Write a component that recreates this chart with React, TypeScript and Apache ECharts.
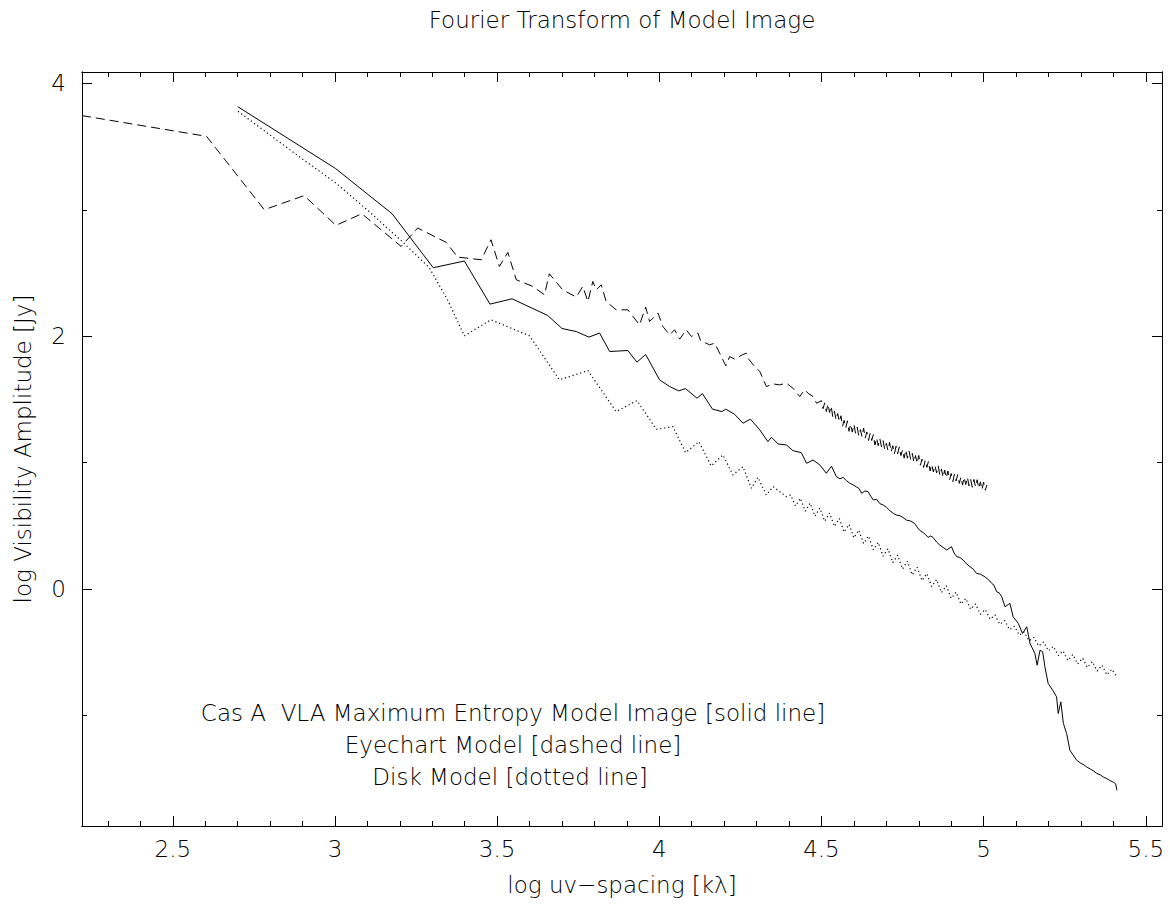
import React, { useEffect, useRef } from "react";
import * as echarts from "echarts";

// ---- axis ranges & ticks ----
const X_MIN = 2.22;
const X_MAX = 5.55;
const Y_MIN = -1.874;
const Y_MAX = 4.09;

const xMajorTicks = [2.5, 3, 3.5, 4, 4.5, 5, 5.5];
const xMinorTicks = [
  2.3, 2.4, 2.5, 2.6, 2.7, 2.8, 2.9, 3.0, 3.1, 3.2, 3.3, 3.4, 3.5, 3.6, 3.7, 3.8, 3.9,
  4.0, 4.1, 4.2, 4.3, 4.4, 4.5, 4.6, 4.7, 4.8, 4.9, 5.0, 5.1, 5.2, 5.3, 5.4, 5.5,
];
const yMajorTicks = [0, 2, 4];
const yMinorTicks = [-1, 1, 3];

// ---- texts ----
const titleText = "Fourier Transform of Model Image";
const xAxisTitle = "log uv\u2212spacing [k\u03bb]";
const yAxisTitle = "log Visibility Amplitude [Jy]";
const noteLines = [
  "Cas A  VLA Maximum Entropy Model Image [solid line]",
  "Eyechart Model [dashed line]",
  "Disk Model [dotted line]",
];

// ---- data: [log uv-spacing, log visibility amplitude] ----
const solidLine: [number, number][] = [
  [2.70, 3.816], [3.001, 3.328], [3.176, 2.969], [3.303, 2.542], [3.399, 2.595],
  [3.478, 2.254], [3.546, 2.296], [3.656, 2.164], [3.70, 2.061], [3.744, 2.037],
  [3.783, 1.993], [3.816, 2.025], [3.847, 1.879], [3.903, 1.887], [3.931, 1.795],
  [3.958, 1.855], [4.001, 1.655], [4.032, 1.602], [4.060, 1.568], [4.081, 1.586],
  [4.116, 1.510], [4.133, 1.546], [4.164, 1.423], [4.193, 1.404], [4.205, 1.423],
  [4.232, 1.383], [4.258, 1.312], [4.281, 1.344], [4.310, 1.259], [4.335, 1.166],
  [4.346, 1.201], [4.366, 1.148], [4.392, 1.140], [4.412, 1.095], [4.438, 1.079],
  [4.454, 0.995], [4.474, 1.021], [4.495, 0.982], [4.515, 0.916], [4.531, 0.972],
  [4.546, 0.889], [4.557, 0.872], [4.567, 0.884], [4.577, 0.857], [4.587, 0.838],
  [4.598, 0.823], [4.608, 0.808], [4.616, 0.795], [4.624, 0.758], [4.634, 0.776],
  [4.644, 0.770], [4.652, 0.735], [4.660, 0.705], [4.670, 0.710], [4.680, 0.676],
  [4.690, 0.665], [4.700, 0.648], [4.711, 0.620], [4.722, 0.598], [4.731, 0.586],
  [4.742, 0.580], [4.752, 0.565], [4.762, 0.546], [4.775, 0.538], [4.787, 0.520],
  [4.795, 0.490], [4.802, 0.467], [4.815, 0.445], [4.829, 0.409], [4.837, 0.420],
  [4.844, 0.409], [4.855, 0.372], [4.865, 0.348], [4.875, 0.330], [4.886, 0.309],
  [4.901, 0.335], [4.909, 0.285], [4.917, 0.256], [4.927, 0.250], [4.937, 0.230],
  [4.947, 0.200], [4.958, 0.177], [4.968, 0.158], [4.978, 0.124], [4.990, 0.118],
  [5.004, 0.097], [5.015, 0.075], [5.025, 0.045], [5.032, 0.030], [5.040, -0.021],
  [5.048, -0.030], [5.056, -0.061], [5.066, -0.140], [5.081, -0.113], [5.091, -0.219],
  [5.107, -0.272], [5.120, -0.351], [5.133, -0.298], [5.143, -0.430], [5.158, -0.509],
  [5.165, -0.602], [5.174, -0.483], [5.182, -0.496], [5.189, -0.615], [5.199, -0.747],
  [5.213, -0.800], [5.225, -0.853], [5.230, -0.984], [5.238, -0.892], [5.246, -1.063],
  [5.256, -1.143], [5.266, -1.275], [5.287, -1.354], [5.300, -1.378], [5.310, -1.392],
  [5.318, -1.407], [5.330, -1.425], [5.340, -1.440], [5.349, -1.459], [5.360, -1.470],
  [5.370, -1.488], [5.380, -1.499], [5.390, -1.515], [5.400, -1.527], [5.407, -1.540],
  [5.411, -1.591],
];

const dashedLine: [number, number][] = [
  [2.22, 3.745], [2.604, 3.581], [2.782, 3.001], [2.905, 3.112], [3.003, 2.877],
  [3.083, 2.969], [3.204, 2.710], [3.255, 2.856], [3.343, 2.742], [3.378, 2.626],
  [3.451, 2.605], [3.481, 2.763], [3.507, 2.552], [3.533, 2.663], [3.559, 2.447],
  [3.610, 2.394], [3.646, 2.328], [3.661, 2.494], [3.702, 2.367], [3.744, 2.310],
  [3.764, 2.394], [3.780, 2.275], [3.795, 2.433], [3.806, 2.367], [3.821, 2.407],
  [3.836, 2.275], [3.867, 2.209], [3.903, 2.209], [3.939, 2.090], [3.958, 2.230],
  [3.970, 2.116], [3.996, 2.183], [4.011, 2.077], [4.032, 2.011], [4.047, 2.051],
  [4.063, 1.977], [4.083, 2.051], [4.099, 1.998], [4.119, 2.025], [4.127, 1.966],
  [4.155, 1.932], [4.171, 1.945], [4.186, 1.866], [4.205, 1.766], [4.217, 1.839],
  [4.232, 1.819], [4.256, 1.853], [4.268, 1.866], [4.273, 1.827], [4.294, 1.760],
  [4.310, 1.721], [4.330, 1.602], [4.351, 1.623], [4.371, 1.615], [4.392, 1.629],
  [4.412, 1.589], [4.433, 1.523], [4.448, 1.576], [4.459, 1.549], [4.474, 1.523],
  [4.485, 1.470],
  [4.500, 1.490], [4.505, 1.427], [4.510, 1.473], [4.515, 1.404], [4.520, 1.465],
  [4.525, 1.397], [4.530, 1.448], [4.535, 1.360], [4.540, 1.406], [4.545, 1.338],
  [4.550, 1.389], [4.555, 1.323], [4.560, 1.371], [4.565, 1.288], [4.570, 1.334],
  [4.575, 1.275], [4.580, 1.331], [4.585, 1.248], [4.590, 1.304], [4.595, 1.242],
  [4.600, 1.304], [4.605, 1.233], [4.610, 1.282], [4.615, 1.212], [4.620, 1.261],
  [4.625, 1.205], [4.630, 1.274], [4.635, 1.194], [4.640, 1.243], [4.645, 1.175],
  [4.650, 1.232], [4.655, 1.175], [4.660, 1.222], [4.665, 1.139], [4.670, 1.196],
  [4.675, 1.134], [4.680, 1.191], [4.685, 1.125], [4.690, 1.174], [4.695, 1.104],
  [4.700, 1.153], [4.705, 1.097], [4.710, 1.161], [4.715, 1.085], [4.720, 1.134],
  [4.725, 1.070], [4.730, 1.130], [4.735, 1.070], [4.740, 1.125], [4.745, 1.056],
  [4.750, 1.101], [4.755, 1.036], [4.760, 1.101], [4.765, 1.035], [4.770, 1.093],
  [4.775, 1.026], [4.780, 1.074], [4.785, 1.003], [4.790, 1.056], [4.795, 0.994],
  [4.800, 1.057], [4.805, 0.980], [4.810, 1.028], [4.815, 0.962], [4.820, 1.020],
  [4.825, 0.963], [4.830, 1.011], [4.835, 0.934], [4.840, 0.987], [4.845, 0.926],
  [4.850, 0.979], [4.855, 0.918], [4.860, 0.976], [4.865, 0.900], [4.870, 0.949],
  [4.875, 0.883], [4.880, 0.941], [4.885, 0.880], [4.890, 0.934], [4.895, 0.864],
  [4.900, 0.914], [4.905, 0.850], [4.910, 0.910], [4.915, 0.855], [4.920, 0.905],
  [4.925, 0.836], [4.930, 0.886], [4.935, 0.823], [4.940, 0.885], [4.945, 0.827],
  [4.950, 0.884], [4.955, 0.816], [4.960, 0.868], [4.965, 0.805], [4.970, 0.867],
  [4.975, 0.809], [4.980, 0.865], [4.985, 0.797], [4.990, 0.848], [4.995, 0.785],
  [5.000, 0.846], [5.005, 0.782], [5.010, 0.823],
];

const dottedLine: [number, number][] = [
  [2.701, 3.779], [2.890, 3.420], [3.001, 3.215], [3.106, 2.985], [3.211, 2.740],
  [3.291, 2.542], [3.347, 2.288], [3.399, 2.003], [3.481, 2.130], [3.600, 2.003],
  [3.646, 1.829], [3.692, 1.655], [3.780, 1.728], [3.867, 1.404], [3.931, 1.491],
  [3.991, 1.264], [4.042, 1.285], [4.081, 1.079], [4.122, 1.166], [4.160, 0.974],
  [4.196, 1.061], [4.227, 0.903], [4.258, 0.968], [4.284, 0.797], [4.304, 0.884],
  [4.330, 0.744], [4.351, 0.810], [4.392, 0.731], [4.405, 0.745], [4.42, 0.657],
  [4.435, 0.718], [4.45, 0.616], [4.465, 0.680], [4.48, 0.576], [4.495, 0.641],
  [4.51, 0.537], [4.525, 0.601], [4.54, 0.496], [4.555, 0.558], [4.57, 0.451],
  [4.585, 0.512], [4.60, 0.405], [4.615, 0.466], [4.63, 0.360], [4.645, 0.420],
  [4.66, 0.311], [4.675, 0.369], [4.69, 0.260], [4.705, 0.319], [4.72, 0.209],
  [4.735, 0.268], [4.75, 0.159], [4.765, 0.220], [4.78, 0.112], [4.795, 0.173],
  [4.81, 0.067], [4.825, 0.123], [4.84, 0.020], [4.855, 0.076], [4.87, -0.028],
  [4.885, 0.027], [4.90, -0.073], [4.915, -0.024], [4.93, -0.118], [4.945, -0.074],
  [4.96, -0.160], [4.975, -0.118], [4.99, -0.199], [5.005, -0.162], [5.02, -0.238],
  [5.035, -0.205], [5.05, -0.278], [5.065, -0.249], [5.08, -0.321], [5.095, -0.294],
  [5.11, -0.364], [5.125, -0.339], [5.14, -0.409], [5.155, -0.382], [5.17, -0.450],
  [5.185, -0.418], [5.20, -0.489], [5.215, -0.453], [5.23, -0.526], [5.245, -0.489],
  [5.26, -0.564], [5.275, -0.518], [5.29, -0.592], [5.305, -0.546], [5.32, -0.620],
  [5.335, -0.574], [5.35, -0.648], [5.365, -0.602], [5.38, -0.678], [5.395, -0.634],
  [5.41, -0.690],
];

const FONT = "'DejaVu Sans', 'Noto Sans', sans-serif";
const INK = "#000";

function makeXAxis(position: "top" | "bottom", ticks: number[], len: number, labels: boolean) {
  return {
    type: "value",
    min: X_MIN,
    max: X_MAX,
    position,
    axisLine: { show: true, onZero: false, lineStyle: { color: INK, width: 1 } },
    axisTick: { show: true, inside: true, length: len, customValues: ticks, lineStyle: { color: INK, width: 1 } },
    axisLabel: labels
      ? {
          show: true,
          customValues: ticks,
          formatter: (v: number) => String(v),
          margin: 11,
          color: INK,
          fontSize: 23,
          fontFamily: FONT,
          fontWeight: 200,
        }
      : { show: false },
    splitLine: { show: false },
  };
}

function makeYAxis(position: "left" | "right", ticks: number[], len: number, labels: boolean) {
  return {
    type: "value",
    min: Y_MIN,
    max: Y_MAX,
    position,
    axisLine: { show: true, onZero: false, lineStyle: { color: INK, width: 1 } },
    axisTick: { show: true, inside: true, length: len, customValues: ticks, lineStyle: { color: INK, width: 1 } },
    axisLabel: labels
      ? {
          show: true,
          customValues: ticks,
          formatter: (v: number) => String(v),
          margin: 16,
          color: INK,
          fontSize: 23,
          fontFamily: FONT,
          fontWeight: 200,
        }
      : { show: false },
    splitLine: { show: false },
  };
}

function textEl(text: string, x: number, y: number, rotation = 0) {
  return {
    type: "text",
    x,
    y,
    rotation,
    silent: true,
    style: {
      text,
      fill: INK,
      fontSize: 23,
      fontFamily: FONT,
      fontWeight: 200,
      align: "center",
      verticalAlign: "middle",
      textAlign: "center",
      textVerticalAlign: "middle",
    },
  };
}

export default function App() {
  const ref = useRef<HTMLDivElement>(null);

  useEffect(() => {
    if (!ref.current) return;
    const chart = echarts.init(ref.current, null, { renderer: "svg" });
    const option: any = {
      animation: false,
      backgroundColor: "#fff",
      grid: { left: 82, right: 8, top: 72, bottom: 88, containLabel: false },
      xAxis: [
        makeXAxis("bottom", xMajorTicks, 10, true),
        makeXAxis("bottom", xMinorTicks, 5, false),
        makeXAxis("top", xMajorTicks, 10, false),
        makeXAxis("top", xMinorTicks, 5, false),
      ],
      yAxis: [
        makeYAxis("left", yMajorTicks, 10, true),
        makeYAxis("left", yMinorTicks, 5, false),
        makeYAxis("right", yMajorTicks, 10, false),
        makeYAxis("right", yMinorTicks, 5, false),
      ],
      series: [
        {
          name: "solid",
          type: "line",
          data: solidLine,
          xAxisIndex: 0,
          yAxisIndex: 0,
          showSymbol: false,
          symbol: "none",
          silent: true,
          lineStyle: { color: INK, width: 1, type: "solid" },
        },
        {
          name: "dashed",
          type: "line",
          data: dashedLine,
          xAxisIndex: 0,
          yAxisIndex: 0,
          showSymbol: false,
          symbol: "none",
          silent: true,
          lineStyle: { color: INK, width: 1, type: [9, 5] },
        },
        {
          name: "dotted",
          type: "line",
          data: dottedLine,
          xAxisIndex: 0,
          yAxisIndex: 0,
          showSymbol: false,
          symbol: "none",
          silent: true,
          lineStyle: { color: INK, width: 1.2, type: [1.2, 2.8] },
        },
      ],
      graphic: [
        textEl(titleText, 622, 20),
        textEl(xAxisTitle, 622, 885),
        textEl(yAxisTitle, 23, 449, Math.PI / 2),
        textEl(noteLines[0], 513, 713),
        textEl(noteLines[1], 513, 745),
        textEl(noteLines[2], 510, 777),
      ],
    };
    chart.setOption(option);
    return () => chart.dispose();
  }, []);

  return (
    <div
      ref={ref}
      style={{ position: "fixed", left: 0, top: 0, width: 1170, height: 914, background: "#fff" }}
    />
  );
}
